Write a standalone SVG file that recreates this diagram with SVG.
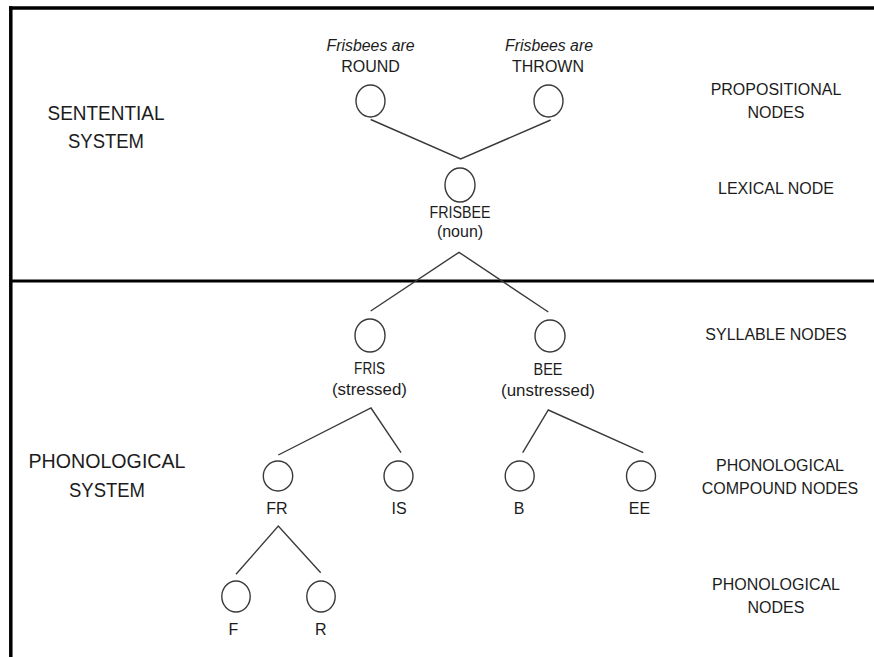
<svg xmlns="http://www.w3.org/2000/svg" width="874" height="657" viewBox="0 0 874 657">
<style>
  .frame { stroke: #000; fill: none; }
  .node ellipse { fill: #fff; stroke: #3a3a3a; stroke-width: 1.4; }
  .edge { stroke: #3a3a3a; stroke-width: 1.4; fill: none; }
  text { font-family: "Liberation Sans", Arial, sans-serif; fill: #1c1c1c; text-anchor: middle; }
  .nl { font-size: 16px; }
  .it { font-style: italic; }
  .side { font-size: 16px; }
  .sys { font-size: 19.5px; }
</style>
<rect width="874" height="657" fill="#fff"/>
<g id="frame">
  <line class="frame" x1="9" y1="8" x2="874" y2="8" stroke-width="3.5"/>
  <line class="frame" x1="10.8" y1="6.3" x2="10.8" y2="657" stroke-width="3.5"/>
  <line class="frame" x1="10.8" y1="281" x2="874" y2="281" stroke-width="3"/>
</g>
<g id="system-labels">
  <text class="sys" x="106" y="120" textLength="117" lengthAdjust="spacingAndGlyphs">SENTENTIAL</text>
  <text class="sys" x="106" y="148" textLength="76" lengthAdjust="spacingAndGlyphs">SYSTEM</text>
  <text class="sys" x="107" y="468" textLength="157" lengthAdjust="spacingAndGlyphs">PHONOLOGICAL</text>
  <text class="sys" x="107" y="497" textLength="76" lengthAdjust="spacingAndGlyphs">SYSTEM</text>
</g>
<g id="level-labels">
  <text class="side" x="776" y="95">PROPOSITIONAL</text>
  <text class="side" x="776" y="118">NODES</text>
  <text class="side" x="776" y="194">LEXICAL NODE</text>
  <text class="side" x="776" y="340">SYLLABLE NODES</text>
  <text class="side" x="780" y="471">PHONOLOGICAL</text>
  <text class="side" x="780" y="494">COMPOUND NODES</text>
  <text class="side" x="776" y="590">PHONOLOGICAL</text>
  <text class="side" x="776" y="613">NODES</text>
</g>
<g id="connectors">
  <polyline class="edge" points="370.7,119.5 460.7,159 550.7,120"/>
  <polyline class="edge" points="370.7,311 459,252.3 548.3,312"/>
  <polyline class="edge" points="278.3,455 371,408 401,452.7"/>
  <polyline class="edge" points="522.7,452.7 548.3,410 643.3,452.7"/>
  <polyline class="edge" points="236,574.3 278.3,526 320.7,572.7"/>
</g>
<g id="node-round" class="node">
  <text class="nl it" x="370.6" y="50.5" textLength="88" lengthAdjust="spacingAndGlyphs">Frisbees are</text>
  <text class="nl" x="370.6" y="71.7">ROUND</text>
  <ellipse cx="370.5" cy="101" rx="14.5" ry="16"/>
</g>
<g id="node-thrown" class="node">
  <text class="nl it" x="549" y="50.5" textLength="88" lengthAdjust="spacingAndGlyphs">Frisbees are</text>
  <text class="nl" x="548" y="71.7">THROWN</text>
  <ellipse cx="548.5" cy="101" rx="14.5" ry="16"/>
</g>
<g id="node-frisbee" class="node">
  <ellipse cx="460" cy="185" rx="15" ry="17"/>
  <text class="nl" x="460" y="218.3" textLength="61" lengthAdjust="spacingAndGlyphs">FRISBEE</text>
  <text class="nl" x="460" y="237">(noun)</text>
</g>
<g id="node-fris" class="node">
  <ellipse cx="370" cy="335.5" rx="15" ry="16.5"/>
  <text class="nl" x="369.6" y="373.5" textLength="31" lengthAdjust="spacingAndGlyphs">FRIS</text>
  <text class="nl" x="369.4" y="394.5" textLength="75" lengthAdjust="spacingAndGlyphs">(stressed)</text>
</g>
<g id="node-bee" class="node">
  <ellipse cx="550" cy="336" rx="15" ry="16"/>
  <text class="nl" x="548" y="375.3" textLength="29" lengthAdjust="spacingAndGlyphs">BEE</text>
  <text class="nl" x="548" y="396" textLength="94" lengthAdjust="spacingAndGlyphs">(unstressed)</text>
</g>
<g id="node-fr" class="node">
  <ellipse cx="278" cy="476" rx="14.7" ry="15"/>
  <text class="nl" x="277" y="513.5">FR</text>
</g>
<g id="node-is" class="node">
  <ellipse cx="398.5" cy="476" rx="14.5" ry="15"/>
  <text class="nl" x="399" y="513.5">IS</text>
</g>
<g id="node-b" class="node">
  <ellipse cx="519.7" cy="476" rx="14.5" ry="15"/>
  <text class="nl" x="519" y="513.5">B</text>
</g>
<g id="node-ee" class="node">
  <ellipse cx="641" cy="476" rx="14.5" ry="15"/>
  <text class="nl" x="639.5" y="513.5">EE</text>
</g>
<g id="node-f" class="node">
  <ellipse cx="236" cy="596.5" rx="14.2" ry="15.5"/>
  <text class="nl" x="233.5" y="635">F</text>
</g>
<g id="node-r" class="node">
  <ellipse cx="321" cy="596.5" rx="14.2" ry="15.5"/>
  <text class="nl" x="320.7" y="635">R</text>
</g>
</svg>
